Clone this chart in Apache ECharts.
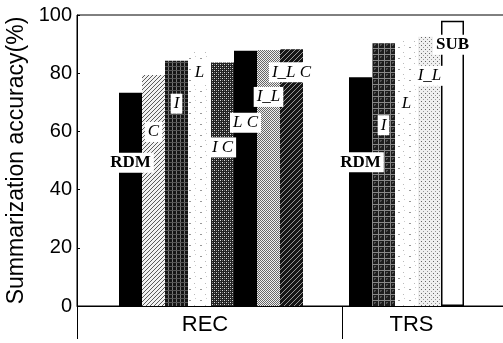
<!DOCTYPE html>
<html>
<head>
<meta charset="utf-8">
<script src="https://cdn.jsdelivr.net/npm/echarts@6.0.0/dist/echarts.min.js"></script>
<style>
  html, body { margin: 0; padding: 0; background: #fff; }
  #chart { width: 503px; height: 343px; }
</style>
</head>
<body>
<div id="chart"></div>
<script>
// data
const groupLabels = ['REC', 'TRS']
const recMethods = ['RDM', 'C', 'I', 'L', 'I C', 'L C', 'I_L', 'I_L C']
const recAccuracy = [73.3, 79.4, 84.3, 87.7, 83.7, 87.7, 88.0, 88.2]
const trsMethods = ['RDM', 'I', 'L', 'I_L', 'SUB']
const trsAccuracy = [78.6, 90.3, 91.6, 92.5, 98.0]
const yMin = 0
const yMax = 100
const yStep = 20

// layout: how far below each bar top its label sits (px)
const recLabelDrop = [70, 57, 43, 22, 85, 72, 47, 23]
const trsLabelDrop = [85, 82, 64, 39, 24]

// small canvas tiles used as fill patterns
const tile = (size, paint) => {
    const c = document.createElement('canvas')
    c.width = c.height = size
    const g = c.getContext('2d')
    paint(g, size)
    return { image: c, repeat: 'repeat' }
}
const px = (g, color, x, y, w = 1, h = 1) => {
    g.fillStyle = color
    g.fillRect(x, y, w, h)
}

const patterns = {
    solid: '#000',
    hatchLight: tile(4, (g, s) => {
        px(g, '#f2f2f2', 0, 0, s, s)
        for (let i = 0; i < s; i++) px(g, '#5a5a5a', i, s - 1 - i)
    }),
    gridDark: tile(4, (g, s) => {
        px(g, '#151515', 0, 0, s, s)
        px(g, '#777', 0, 0, 1, s)
        px(g, '#555', 0, 2, s, 1)
    }),
    sparse: tile(11, (g, s) => {
        px(g, '#fff', 0, 0, s, s)
        px(g, '#999', 2, 3, 2, 1)
        px(g, '#bbb', 7, 8)
        px(g, '#ccc', 8, 1)
    }),
    checkerDark: tile(4, (g, s) => {
        px(g, '#222', 0, 0, s, s)
        px(g, '#ddd', 0, 0)
        px(g, '#ddd', 2, 2)
        px(g, '#777', 2, 0)
        px(g, '#777', 0, 2)
    }),
    checkerLight: tile(2, (g, s) => {
        px(g, '#eee', 0, 0, s, s)
        px(g, '#666', 0, 0)
        px(g, '#666', 1, 1)
    }),
    hatchDark: tile(5, (g, s) => {
        px(g, '#151515', 0, 0, s, s)
        for (let i = 0; i < s; i++) px(g, '#999', i, s - 1 - i)
    }),
    squaresDark: tile(6, (g, s) => {
        px(g, '#1c1c1c', 0, 0, s, s)
        px(g, '#888', 0, 0, s, 1)
        px(g, '#888', 0, 0, 1, s)
        px(g, '#555', 2, 2, 2, 2)
        px(g, '#222', 3, 3)
    }),
    dotsLight: tile(4, (g, s) => {
        px(g, '#f0f0f0', 0, 0, s, s)
        px(g, '#666', 1, 1)
        px(g, '#999', 3, 3)
    }),
}

const recFills = ['solid', 'hatchLight', 'gridDark', 'sparse', 'checkerDark', 'solid', 'checkerLight', 'hatchDark']
const trsFills = ['solid', 'squaresDark', 'sparse', 'dotsLight', 'outline']

const barItem = (method, value, fill, drop) => {
    const bold = method === 'RDM' || method === 'SUB'
    const itemStyle = fill === 'outline'
        ? { color: '#fff', borderColor: '#000', borderWidth: 1.5 }
        : { color: patterns[fill] }
    return {
        value,
        itemStyle,
        label: {
            show: true,
            formatter: method,
            position: ['50%', drop],
            align: 'center',
            verticalAlign: 'middle',
            fontFamily: 'Liberation Serif',
            fontSize: 17,
            fontStyle: bold ? 'normal' : 'italic',
            fontWeight: bold ? 'bold' : 'normal',
            color: '#000',
            backgroundColor: '#fff',
            padding: [2, 3, 1, 3],
        },
    }
}

// one category slot per bar, with blank slots around and between groups
const slotNames = []
const slotData = []
const addBlank = (n) => {
    for (let i = 0; i < n; i++) {
        slotNames.push('blank' + slotNames.length)
        slotData.push('-')
    }
}
addBlank(2)
recMethods.forEach((m, i) => {
    slotNames.push('REC ' + m)
    slotData.push(barItem(m, recAccuracy[i], recFills[i], recLabelDrop[i]))
})
addBlank(2)
trsMethods.forEach((m, i) => {
    slotNames.push('TRS ' + m)
    slotData.push(barItem(m, trsAccuracy[i], trsFills[i], trsLabelDrop[i]))
})
addBlank(2)

const chart = echarts.init(document.getElementById('chart'), null, { renderer: 'canvas' })

const option = {
    backgroundColor: '#fff',
    animation: false,
    grid: [
        // frame with y axis and the group boxes
        {
            left: 77, top: 15, width: 530, height: 291,
            outerBoundsMode: 'none', containLabel: false,
            show: true, borderColor: '#000', borderWidth: 1,
        },
        // bars, one 23px slot each
        {
            left: 73, top: 15, width: 23 * slotNames.length, height: 291,
            outerBoundsMode: 'none', containLabel: false,
        },
    ],
    xAxis: [
        {
            type: 'category',
            gridIndex: 0,
            data: groupLabels,
            position: 'bottom',
            offset: 4,
            axisLine: { lineStyle: { color: '#000', width: 1 } },
            axisTick: { show: true, length: 33, lineStyle: { color: '#000', width: 1 } },
            axisLabel: {
                margin: 4,
                formatter: (v) => (v === 'REC' ? '{rec|REC}' : '{trs|TRS}'),
                rich: {
                    rec: { fontFamily: 'Liberation Sans', fontSize: 22, color: '#000', padding: [0, 9, 0, 0] },
                    trs: { fontFamily: 'Liberation Sans', fontSize: 22, color: '#000', padding: [0, 126, 0, 0] },
                },
            },
        },
        {
            type: 'category',
            gridIndex: 1,
            data: slotNames,
            show: false,
        },
    ],
    yAxis: [
        {
            type: 'value',
            gridIndex: 0,
            min: yMin,
            max: yMax,
            interval: yStep,
            name: 'Summarization accuracy(%)',
            nameLocation: 'middle',
            nameGap: 42,
            nameTextStyle: { fontFamily: 'Liberation Sans', fontSize: 23, color: '#000' },
            axisLine: { show: true, lineStyle: { color: '#000', width: 1 } },
            axisTick: { show: true, inside: true, length: 3, lineStyle: { color: '#000' } },
            axisLabel: { fontFamily: 'Liberation Sans', fontSize: 20, color: '#000', margin: 5 },
            splitLine: { show: false },
        },
        {
            type: 'value',
            gridIndex: 1,
            min: yMin,
            max: yMax,
            show: false,
            splitLine: { show: false },
        },
    ],
    series: [
        {
            type: 'bar',
            xAxisIndex: 1,
            yAxisIndex: 1,
            barCategoryGap: '0%',
            silent: true,
            data: slotData,
        },
    ],
}

chart.setOption(option)
</script>
</body>
</html>
